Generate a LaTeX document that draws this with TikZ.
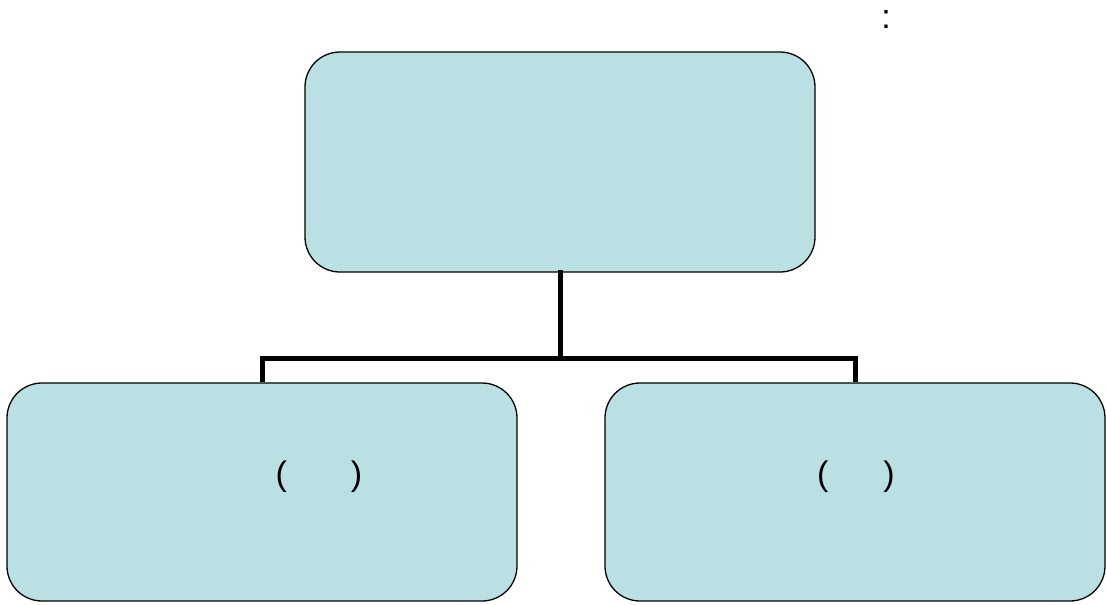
\documentclass[tikz,border=0pt]{standalone}
\usepackage{fontspec}
\setmainfont{Liberation Sans}
\definecolor{boxblue}{RGB}{187,224,227}
\tikzset{
  orgbox/.style={draw=black, line width=1.3pt, fill=boxblue, rounded corners=35pt, inner sep=0pt},
  conn/.style={line width=5pt, line cap=rect},
  lbl/.style={font=\fontsize{34}{40}\selectfont, inner sep=0pt}
}
\begin{document}
\begin{tikzpicture}[x=1pt, y=-1pt]
  \useasboundingbox (0,0) rectangle (1106,605);
  \node[orgbox, minimum width=510pt, minimum height=220pt] (top) at (560,162) {};
  \node[orgbox, minimum width=510pt, minimum height=218pt] (left) at (262,492) {};
  \node[orgbox, minimum width=500pt, minimum height=218pt] (right) at (855,492) {};
  \coordinate (bus) at (560,358);
  \draw[conn] (top.south) -- (bus);
  \draw[conn, line cap=butt] (left.north) |- (bus) -| (right.north);
  \node[lbl] (lefttxt) at (319,477) {(\hspace{64pt})};
  \node[lbl] (righttxt) at (856,477) {(\hspace{55pt})};
  \node[lbl] (colon) at (886,20) {:};
\end{tikzpicture}
\end{document}
